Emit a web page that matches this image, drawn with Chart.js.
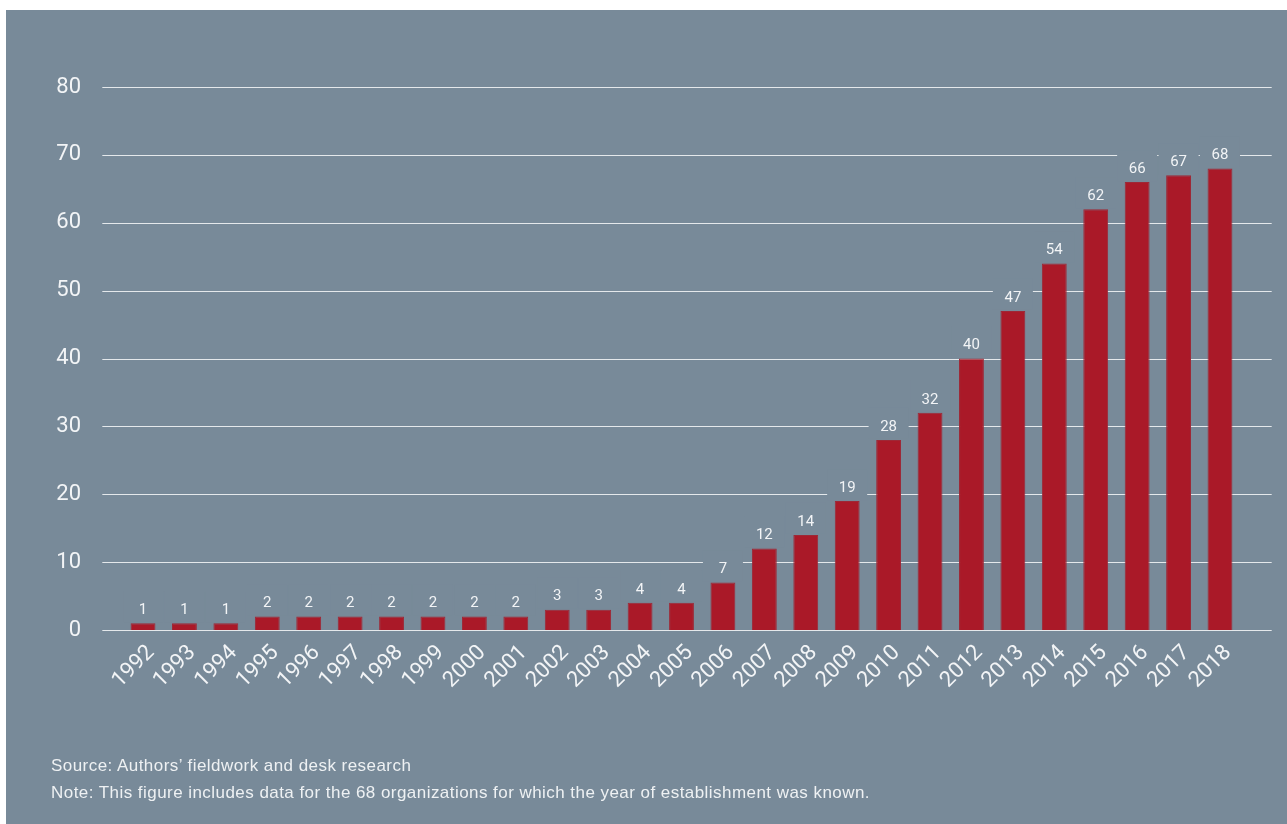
<!DOCTYPE html>
<html lang="en">
<head>
  <meta charset="UTF-8" />
  <title>Organizations by year of establishment</title>
  <script src="https://cdn.jsdelivr.net/npm/chart.js"></script>
  <style>
    body { margin: 0; background: #fff; }
    .panel { position: absolute; left: 6px; top: 10px; width: 1281px; height: 814px; background: #788a99; }
    canvas { position: absolute; left: 0; top: 0; }
    .notes { position: absolute; left: 45px; top: 742px; font-family: 'Liberation Sans', Helvetica, Arial, sans-serif; font-size: 17px; letter-spacing: 0.45px; color: #eef1f3; line-height: 27px; }
  </style>
</head>
<body>
  <div class="panel">
    <canvas id="chart" width="1281" height="814"></canvas>
    <div class="notes">
      <div>Source: Authors’ fieldwork and desk research</div>
      <div>Note: This figure includes data for the 68 organizations for which the year of establishment was known.</div>
    </div>
  </div>

  <script>
    const years = ['1992','1993','1994','1995','1996','1997','1998','1999','2000','2001','2002','2003','2004','2005',
                   '2006','2007','2008','2009','2010','2011','2012','2013','2014','2015','2016','2017','2018'];
    const totals = [1, 1, 1, 2, 2, 2, 2, 2, 2, 2, 3, 3, 4, 4, 7, 12, 14, 19, 28, 32, 40, 47, 54, 62, 66, 67, 68];
    const yTicks = [0, 10, 20, 30, 40, 50, 60, 70, 80];

    const BG = '#788a99';
    const TXT = '#f2f4f6';
    const FONT = 'Roboto, "DejaVu Sans", sans-serif';

    // gridlines run wider than the bars, and break behind the value labels
    const gridAndLabels = {
      id: 'gridAndLabels',
      beforeDatasetsDraw(chart) {
        const { ctx, chartArea, scales: { y } } = chart;
        ctx.save();
        ctx.strokeStyle = 'rgba(255,255,255,0.8)';
        ctx.lineWidth = 1.2;
        for (const v of yTicks) {
          const py = Math.round(y.getPixelForValue(v)) + 0.5;
          ctx.beginPath();
          ctx.moveTo(chartArea.left - 20, py);
          ctx.lineTo(chartArea.right + 31, py);
          ctx.stroke();
        }
        ctx.restore();
      },
      afterDatasetsDraw(chart) {
        const { ctx } = chart;
        const bars = chart.getDatasetMeta(0).data;
        ctx.save();
        ctx.font = '15px ' + FONT;
        ctx.textAlign = 'center';
        ctx.textBaseline = 'middle';
        bars.forEach((bar, i) => {
          ctx.fillStyle = BG;
          ctx.fillRect(bar.x - 20, bar.y - 32, 40, 31);
          ctx.fillStyle = TXT;
          ctx.fillText(totals[i], bar.x, bar.y - 13);
        });
        ctx.restore();
      }
    };

    new Chart(document.getElementById('chart'), {
      type: 'bar',
      data: {
        labels: years,
        datasets: [{
          data: totals,
          backgroundColor: '#aa1928',
          borderColor: '#9e2836',
          borderWidth: 1,
          barPercentage: 0.6,
          categoryPercentage: 1.0
        }]
      },
      options: {
        responsive: false,
        animation: false,
        devicePixelRatio: 1,
        layout: { padding: { top: 77, right: 46.3, left: 0, bottom: 0 } },
        plugins: { legend: { display: false }, tooltip: { enabled: false } },
        scales: {
          y: {
            min: 0, max: 80,
            afterFit: s => { s.width = 116.3; },
            afterBuildTicks: s => { s.ticks = yTicks.map(v => ({ value: v })); },
            grid: { display: false, drawTicks: false },
            border: { display: false },
            ticks: { color: TXT, padding: 41.3, font: { family: FONT, size: 22 } }
          },
          x: {
            afterFit: s => { s.height = 194; },
            grid: { display: false, drawTicks: false },
            border: { display: false },
            ticks: {
              color: TXT, autoSkip: false, minRotation: 45, maxRotation: 45, padding: 10, labelOffset: 8,
              font: { family: FONT, size: 22 }
            }
          }
        }
      },
      plugins: [gridAndLabels]
    });
  </script>
</body>
</html>
